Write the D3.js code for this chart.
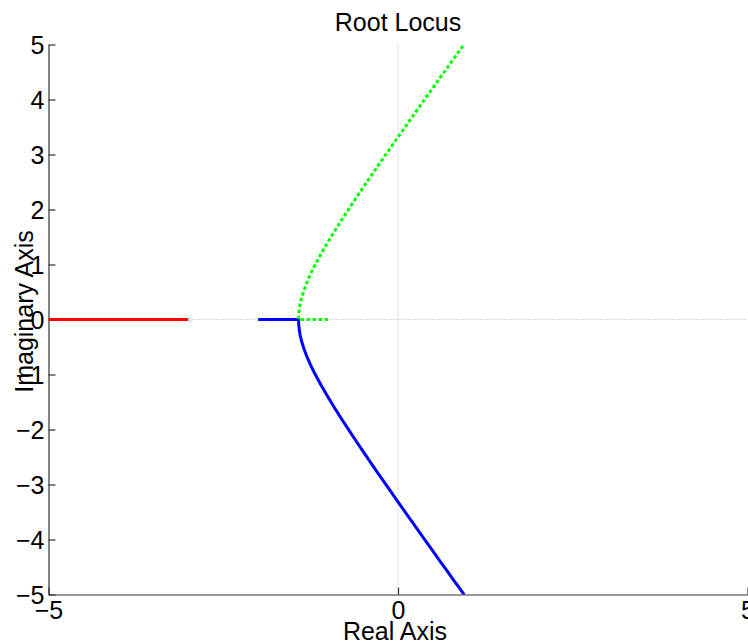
<!DOCTYPE html>
<html>
<head>
<meta charset="utf-8">
<script src="https://cdn.jsdelivr.net/npm/d3@7"></script>
<style>
  html, body { margin: 0; padding: 0; background: #fff; }
  svg { display: block; font-family: "Liberation Sans", Arial, sans-serif; }
</style>
</head>
<body>
<svg id="chart" width="748" height="641"></svg>
<script>
// Axis limits and tick values
const xTicks = [-5, 0, 5];
const yTicks = [-5, -4, -3, -2, -1, 0, 1, 2, 3, 4, 5];

// Branch leaving the pole at -3 along the negative real axis
const redRe = [-5, -3];
const redIm = [0, 0];

// Real-axis segments from the poles at -2 and -1 to the breakaway point
const blueAxisRe = [-2, -1.423];
const greenAxisRe = [-1, -1.423];

// Complex branch after breakaway (upper half; lower half is its mirror)
const branchRe = [-1.423, -1.42, -1.41, -1.40, -1.38, -1.35, -1.30, -1.25, -1.20, -1.10,
                  -1.00, -0.90, -0.80, -0.70, -0.60, -0.50, -0.40, -0.30, -0.20, -0.10,
                  0.00, 0.10, 0.20, 0.30, 0.40, 0.50, 0.60, 0.70, 0.80, 0.90, 0.95];
const branchIm = [0, 0.095, 0.21, 0.283, 0.391, 0.517, 0.686, 0.829, 0.959, 1.196,
                  1.414, 1.622, 1.822, 2.017, 2.209, 2.398, 2.585, 2.769, 2.953, 3.135,
                  3.317, 3.497, 3.677, 3.856, 4.035, 4.213, 4.391, 4.568, 4.746, 4.922, 5.011];

const svg = d3.select("#chart");
const plotLeft = 48.5, plotRight = 747.5, plotTop = 44.5, plotBottom = 594.5;

const x = d3.scaleLinear().domain([-5, 5]).range([plotLeft, plotRight]);
const y = d3.scaleLinear().domain([-5, 5]).range([plotBottom, plotTop]);

// Clip region for the plotted curves
svg.append("defs").append("clipPath").attr("id", "plotClip")
  .append("rect")
  .attr("x", plotLeft).attr("y", plotTop)
  .attr("width", plotRight - plotLeft).attr("height", plotBottom - plotTop);

// Dotted zero reference lines
svg.append("line")
  .attr("x1", x(0)).attr("x2", x(0)).attr("y1", plotTop).attr("y2", plotBottom)
  .attr("stroke", "#b4b4b4").attr("stroke-width", 1).attr("stroke-dasharray", "1,2");
svg.append("line")
  .attr("x1", plotLeft).attr("x2", plotRight).attr("y1", y(0)).attr("y2", y(0))
  .attr("stroke", "#b4b4b4").attr("stroke-width", 1).attr("stroke-dasharray", "1,2");

// Axes with inward ticks
const fontSize = 25;
const yAxis = d3.axisLeft(y).tickValues(yTicks).tickFormat(d3.format("d"))
  .tickSizeInner(-7).tickSizeOuter(0).tickPadding(4);
const gy = svg.append("g").attr("transform", `translate(${plotLeft},0)`).call(yAxis);

const xAxis = d3.axisBottom(x).tickValues(xTicks).tickFormat(d3.format("d"))
  .tickSizeInner(-7).tickSizeOuter(0).tickPadding(6);
const gx = svg.append("g").attr("transform", `translate(0,${plotBottom})`).call(xAxis);

[gx, gy].forEach(g => {
  g.select(".domain").attr("stroke", "#333").attr("stroke-width", 1.2);
  g.selectAll(".tick line").attr("stroke", "#333").attr("stroke-width", 1.2);
  g.selectAll(".tick text")
    .attr("fill", "#000")
    .style("font-size", fontSize + "px")
    .style("font-family", "'Liberation Sans', Arial, sans-serif");
});
gx.selectAll(".tick text").attr("dy", "0.72em");
gy.selectAll(".tick text").attr("dy", "0.35em");

// Locus curves
const line = d3.line().x(d => x(d[0])).y(d => y(d[1]));
const plot = svg.append("g").attr("clip-path", "url(#plotClip)");

const redPts = redRe.map((r, i) => [r, redIm[i]]);
const bluePts = blueAxisRe.map(r => [r, 0])
  .concat(branchRe.map((r, i) => [r, -branchIm[i]]));
const greenPts = greenAxisRe.map(r => [r, 0])
  .concat(branchRe.map((r, i) => [r, branchIm[i]]));

plot.append("path").datum(redPts).attr("d", line)
  .attr("fill", "none").attr("stroke", "#ff0000").attr("stroke-width", 3);
plot.append("path").datum(bluePts).attr("d", line)
  .attr("fill", "none").attr("stroke", "#0000ff").attr("stroke-width", 3)
  .attr("stroke-linejoin", "round");
plot.append("path").datum(greenPts).attr("d", line)
  .attr("fill", "none").attr("stroke", "#00ff00").attr("stroke-width", 3)
  .attr("stroke-dasharray", "3.5,2.5");

// Title and axis labels
svg.append("text")
  .attr("x", x(0)).attr("y", 31)
  .attr("text-anchor", "middle")
  .style("font-size", fontSize + "px")
  .text("Root Locus");

svg.append("text")
  .attr("x", x(0) - 3).attr("y", 640)
  .attr("text-anchor", "middle")
  .style("font-size", fontSize + "px")
  .text("Real Axis");

svg.append("text")
  .attr("transform", `translate(33,${(plotTop + plotBottom) / 2 - 8}) rotate(-90)`)
  .attr("text-anchor", "middle")
  .style("font-size", fontSize + "px")
  .text("Imaginary Axis");
</script>
</body>
</html>
